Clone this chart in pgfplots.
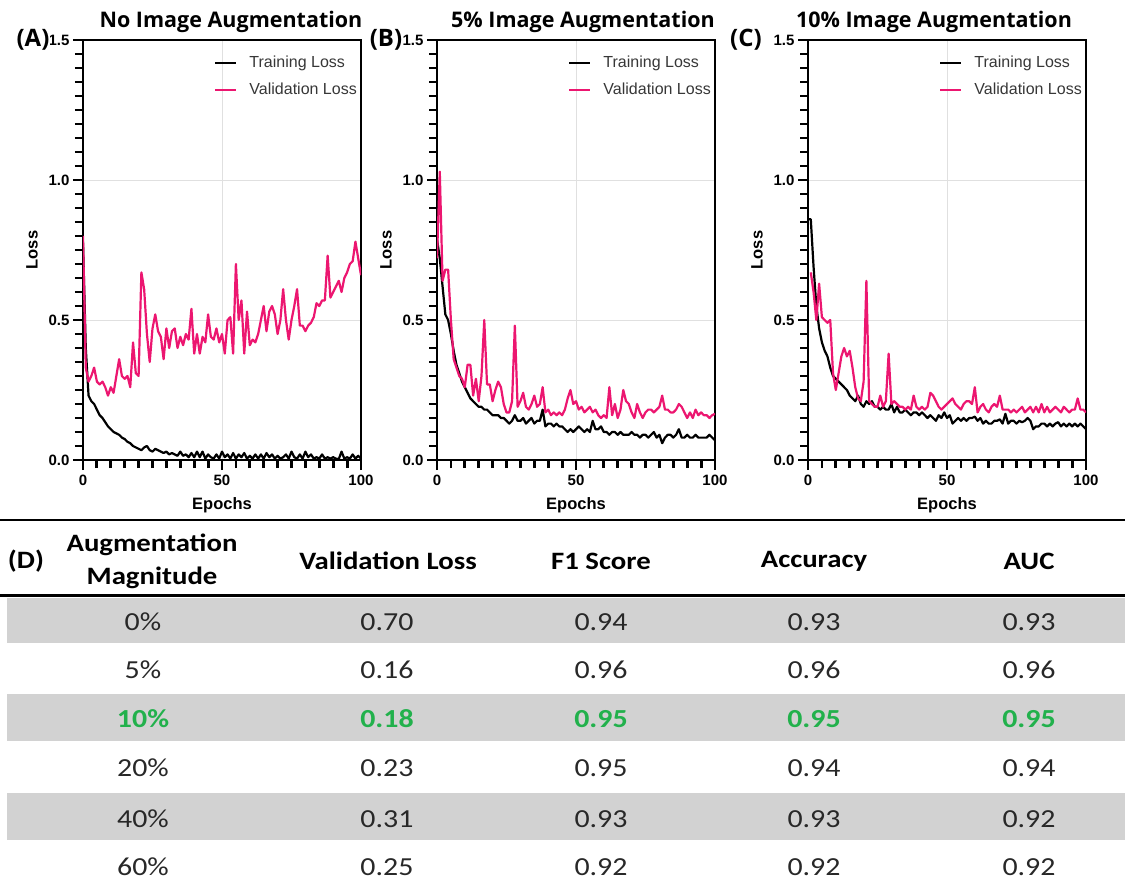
\documentclass[border=0pt]{standalone}
\usepackage{fontspec}
\usepackage{graphicx}
\usepackage{pgfplots}
\usepackage{pgfplotstable}
\pgfplotsset{compat=1.18}
\setmainfont{Liberation Sans}
\newfontfamily\arial{Liberation Sans}
\newfontfamily\segoe{Open Sans}
\newfontfamily\calibri{Carlito}
\definecolor{vpink}{RGB}{236,22,112}
\definecolor{rowgray}{RGB}{210,210,210}
\definecolor{bestgreen}{RGB}{34,177,76}
\definecolor{legtext}{RGB}{55,55,55}
\definecolor{tabtext}{RGB}{40,40,40}

\pgfplotstableread{
ep tr va
0 0.78 0.80
1 0.40 0.33
2 0.23 0.28
3 0.21 0.30
4 0.20 0.33
5 0.18 0.28
6 0.16 0.27
7 0.15 0.28
8 0.135 0.26
9 0.12 0.23
10 0.11 0.26
11 0.10 0.24
12 0.095 0.30
13 0.09 0.36
14 0.08 0.30
15 0.075 0.29
16 0.065 0.30
17 0.06 0.26
18 0.05 0.42
19 0.045 0.31
20 0.04 0.30
21 0.035 0.67
22 0.045 0.61
23 0.05 0.45
24 0.035 0.35
25 0.03 0.47
26 0.04 0.52
27 0.035 0.46
28 0.03 0.44
29 0.025 0.36
30 0.03 0.47
31 0.02 0.40
32 0.025 0.46
33 0.02 0.47
34 0.015 0.40
35 0.03 0.44
36 0.015 0.41
37 0.02 0.45
38 0.01 0.43
39 0.025 0.54
40 0.01 0.38
41 0.03 0.45
42 0.01 0.38
43 0.03 0.44
44 0.005 0.42
45 0.02 0.52
46 0.01 0.44
47 0.005 0.43
48 0.02 0.47
49 0.005 0.42
50 0.03 0.45
51 0.01 0.38
52 0.02 0.50
53 0.005 0.51
54 0.025 0.38
55 0.005 0.70
56 0.02 0.50
57 0.01 0.57
58 0.025 0.38
59 0.005 0.53
60 0.015 0.41
61 0.005 0.43
62 0.02 0.42
63 0.005 0.45
64 0.02 0.50
65 0.005 0.55
66 0.025 0.46
67 0.01 0.53
68 0.02 0.55
69 0.005 0.52
70 0.015 0.45
71 0.005 0.50
72 0.01 0.61
73 0.02 0.50
74 0.005 0.43
75 0.03 0.50
76 0.01 0.55
77 0.005 0.61
78 0.02 0.48
79 0.005 0.48
80 0.03 0.46
81 0.01 0.48
82 0.02 0.49
83 0.005 0.51
84 0.01 0.56
85 0.005 0.55
86 0.02 0.57
87 0.005 0.57
88 0.01 0.73
89 0.005 0.58
90 0.01 0.60
91 0.005 0.62
92 0.003 0.64
93 0.03 0.60
94 0.005 0.65
95 0.01 0.67
96 0.005 0.70
97 0.02 0.71
98 0.005 0.78
99 0.015 0.72
100 0.005 0.66
}\dataA

\pgfplotstableread{
ep tr va
0 0.79 0.72
1 0.72 1.03
2 0.62 0.64
3 0.52 0.68
4 0.50 0.68
5 0.45 0.50
6 0.39 0.36
7 0.34 0.33
8 0.31 0.30
9 0.28 0.29
10 0.26 0.26
11 0.24 0.34
12 0.22 0.34
13 0.21 0.23
14 0.20 0.29
15 0.19 0.21
16 0.19 0.30
17 0.18 0.50
18 0.18 0.27
19 0.17 0.27
20 0.16 0.21
21 0.16 0.25
22 0.16 0.28
23 0.15 0.26
24 0.15 0.20
25 0.14 0.17
26 0.13 0.17
27 0.14 0.21
28 0.16 0.48
29 0.14 0.19
30 0.14 0.21
31 0.15 0.24
32 0.13 0.19
33 0.14 0.18
34 0.15 0.20
35 0.13 0.23
36 0.14 0.19
37 0.14 0.20
38 0.18 0.26
39 0.12 0.17
40 0.13 0.18
41 0.13 0.16
42 0.12 0.17
43 0.13 0.16
44 0.12 0.17
45 0.12 0.16
46 0.11 0.18
47 0.10 0.22
48 0.11 0.25
49 0.10 0.20
50 0.11 0.21
51 0.12 0.18
52 0.11 0.19
53 0.10 0.17
54 0.11 0.18
55 0.10 0.19
56 0.14 0.17
57 0.11 0.18
58 0.11 0.16
59 0.12 0.15
60 0.10 0.16
61 0.10 0.15
62 0.09 0.26
63 0.10 0.16
64 0.10 0.20
65 0.09 0.15
66 0.10 0.18
67 0.09 0.25
68 0.09 0.21
69 0.09 0.20
70 0.10 0.17
71 0.09 0.15
72 0.09 0.20
73 0.08 0.17
74 0.09 0.15
75 0.09 0.17
76 0.08 0.18
77 0.09 0.18
78 0.10 0.17
79 0.08 0.18
80 0.09 0.19
81 0.06 0.23
82 0.08 0.18
83 0.09 0.18
84 0.09 0.17
85 0.08 0.17
86 0.09 0.18
87 0.11 0.20
88 0.08 0.19
89 0.08 0.17
90 0.09 0.15
91 0.08 0.17
92 0.08 0.15
93 0.09 0.18
94 0.08 0.16
95 0.08 0.17
96 0.08 0.16
97 0.08 0.16
98 0.09 0.15
99 0.08 0.16
100 0.07 0.165
}\dataB

\pgfplotstableread{
ep tr va
0 0.86 nan
1 0.86 0.67
2 0.69 0.60
3 0.55 0.50
4 0.47 0.63
5 0.42 0.51
6 0.39 0.50
7 0.37 0.49
8 0.33 0.50
9 0.30 0.31
10 0.29 0.25
11 0.28 0.31
12 0.27 0.37
13 0.26 0.40
14 0.25 0.37
15 0.23 0.39
16 0.22 0.33
17 0.21 0.26
18 0.23 0.22
19 0.20 0.21
20 0.19 0.28
21 0.21 0.64
22 0.20 0.21
23 0.21 0.20
24 0.19 0.19
25 0.19 0.19
26 0.18 0.23
27 0.19 0.19
28 0.18 0.21
29 0.18 0.38
30 0.20 0.20
31 0.17 0.21
32 0.19 0.20
33 0.17 0.19
34 0.17 0.19
35 0.18 0.18
36 0.17 0.19
37 0.16 0.18
38 0.17 0.23
39 0.17 0.19
40 0.16 0.18
41 0.17 0.19
42 0.16 0.18
43 0.15 0.19
44 0.16 0.24
45 0.15 0.23
46 0.14 0.21
47 0.16 0.19
48 0.15 0.18
49 0.17 0.19
50 0.15 0.20
51 0.16 0.21
52 0.13 0.22
53 0.14 0.20
54 0.15 0.19
55 0.14 0.18
56 0.15 0.20
57 0.14 0.21
58 0.15 0.21
59 0.15 0.20
60 0.155 0.26
61 0.14 0.17
62 0.15 0.19
63 0.13 0.20
64 0.14 0.18
65 0.13 0.17
66 0.13 0.19
67 0.14 0.20
68 0.14 0.19
69 0.145 0.23
70 0.13 0.18
71 0.165 0.18
72 0.13 0.18
73 0.14 0.17
74 0.14 0.18
75 0.13 0.17
76 0.14 0.18
77 0.135 0.19
78 0.14 0.17
79 0.15 0.18
80 0.14 0.19
81 0.11 0.17
82 0.12 0.19
83 0.12 0.17
84 0.13 0.20
85 0.13 0.17
86 0.12 0.19
87 0.13 0.17
88 0.12 0.18
89 0.13 0.19
90 0.135 0.18
91 0.12 0.17
92 0.13 0.19
93 0.12 0.18
94 0.13 0.17
95 0.12 0.18
96 0.13 0.18
97 0.12 0.22
98 0.13 0.18
99 0.12 0.18
100 0.11 0.17
}\dataC

\pgfplotsset{lossax/.style={
  scale only axis, width=278pt, height=420pt,
  xmin=0, xmax=100, ymin=0, ymax=1.5,
  xtick={0,50,100}, ytick={0,0.5,1,1.5},
  minor tick num=9,
  tick align=outside, tick pos=left,
  major tick length=10pt, minor tick length=8pt,
  tick style={black, line width=2.8pt},
  axis line style={line width=2.6pt},
  xmajorgrids, ymajorgrids, major grid style={black!12, line width=0.8pt},
  yticklabel style={font=\arial\bfseries\fontsize{15}{15}\selectfont,
    /pgf/number format/fixed, /pgf/number format/fixed zerofill, /pgf/number format/precision=1,
    /pgf/number format/assume math mode=true},
  xticklabel style={font=\arial\bfseries\fontsize{15}{15}\selectfont, yshift=-1pt,
    /pgf/number format/assume math mode=true},
  xlabel={Epochs}, ylabel={Loss},
  every axis x label/.style={at={(axis description cs:0.5,0)}, yshift=-45pt, anchor=center,
    font=\arial\bfseries\fontsize{16.5}{16.5}\selectfont},
  every axis y label/.style={at={(axis description cs:0,0.5)}, xshift=-51pt, rotate=90, anchor=center,
    font=\arial\bfseries\fontsize{16.5}{16.5}\selectfont},
  legend style={draw=none, fill=none, at={(axis description cs:1,1)}, anchor=north east,
    xshift=0pt, yshift=-12pt, font=\arial\fontsize{16}{16}\selectfont, text=legtext,
    row sep=10pt, inner sep=2pt},
  legend cell align=left,
  legend image code/.code={\draw[##1, line width=2.2pt] (0pt,0pt) -- (21pt,0pt); \path (31pt,0pt);},
}}

\newcommand{\tb}[1]{\scalebox{1.15}[1]{#1}}

\begin{document}
\begin{tikzpicture}
% ---- panel A ----
\begin{axis}[lossax, at={(83pt,-460pt)}, anchor=south west]
\addplot[black, line width=2.2pt, line join=round] table[x=ep,y=tr]{\dataA};
\addplot[vpink, line width=2.2pt, line join=round] table[x=ep,y=va]{\dataA};
\legend{Training Loss, Validation Loss}
\end{axis}
% ---- panel B ----
\begin{axis}[lossax, at={(437pt,-460pt)}, anchor=south west]
\addplot[black, line width=2.2pt, line join=round] table[x=ep,y=tr]{\dataB};
\addplot[vpink, line width=2.2pt, line join=round] table[x=ep,y=va]{\dataB};
\legend{Training Loss, Validation Loss}
\end{axis}
% ---- panel C ----
\begin{axis}[lossax, at={(808pt,-460pt)}, anchor=south west, unbounded coords=discard]
\addplot[black, line width=2.2pt, line join=round] table[x=ep,y=tr]{\dataC};
\addplot[vpink, line width=2.2pt, line join=round] table[x=ep,y=va]{\dataC};
\legend{Training Loss, Validation Loss}
\end{axis}

% titles and panel letters
\begin{scope}[every node/.style={font=\segoe\bfseries\fontsize{21.5}{21.5}\selectfont, inner sep=1pt}]
\node at (231pt,-22pt) {No Image Augmentation};
\node at (583pt,-22pt) {5\% Image Augmentation};
\node at (934pt,-22pt) {10\% Image Augmentation};
\end{scope}
\begin{scope}[every node/.style={font=\segoe\bfseries\fontsize{24}{24}\selectfont, inner sep=0.5pt}]
\node[fill=white] at (33pt,-40pt) {(A)};
\node[fill=white] at (386pt,-40pt) {(B)};
\node at (746pt,-40pt) {(C)};
\end{scope}

% ---- table (D) ----
\fill[rowgray] (7pt,-598pt) rectangle (1125pt,-643pt);
\fill[rowgray] (7pt,-694pt) rectangle (1125pt,-741pt);
\fill[rowgray] (7pt,-793pt) rectangle (1125pt,-840pt);
\draw[line width=2.5pt] (0pt,-520pt) -- (1125pt,-520pt);
\draw[line width=3pt] (0pt,-595pt) -- (1125pt,-595pt);

\begin{scope}[every node/.style={font=\calibri\bfseries\fontsize{25}{25}\selectfont, text=black, inner sep=0pt}]
\node at (26pt,-561pt) {\tb{(D)}};
\node at (152pt,-545pt) {\tb{Augmentation}};
\node at (152pt,-578pt) {\tb{Magnitude}};
\node at (388pt,-561pt) {\tb{Validation Loss}};
\node at (601pt,-561pt) {\tb{F1 Score}};
\node at (814pt,-561pt) {\tb{Accuracy}};
\node at (1029pt,-561pt) {\tb{AUC}};
\end{scope}

\begin{scope}[every node/.style={font=\calibri\fontsize{26}{26}\selectfont, text=tabtext, inner sep=0pt}]
\node at (143pt,-622pt) {\tb{0\%}};
\node at (387pt,-622pt) {\tb{0.70}};
\node at (601pt,-622pt) {\tb{0.94}};
\node at (814pt,-622pt) {\tb{0.93}};
\node at (1029pt,-622pt) {\tb{0.93}};
\node at (143pt,-670pt) {\tb{5\%}};
\node at (387pt,-670pt) {\tb{0.16}};
\node at (601pt,-670pt) {\tb{0.96}};
\node at (814pt,-670pt) {\tb{0.96}};
\node at (1029pt,-670pt) {\tb{0.96}};
\node at (143pt,-768pt) {\tb{20\%}};
\node at (387pt,-768pt) {\tb{0.23}};
\node at (601pt,-768pt) {\tb{0.95}};
\node at (814pt,-768pt) {\tb{0.94}};
\node at (1029pt,-768pt) {\tb{0.94}};
\node at (143pt,-819pt) {\tb{40\%}};
\node at (387pt,-819pt) {\tb{0.31}};
\node at (601pt,-819pt) {\tb{0.93}};
\node at (814pt,-819pt) {\tb{0.93}};
\node at (1029pt,-819pt) {\tb{0.92}};
\node at (143pt,-867pt) {\tb{60\%}};
\node at (387pt,-867pt) {\tb{0.25}};
\node at (601pt,-867pt) {\tb{0.92}};
\node at (814pt,-867pt) {\tb{0.92}};
\node at (1029pt,-867pt) {\tb{0.92}};
\end{scope}
\begin{scope}[every node/.style={font=\calibri\bfseries\fontsize{26}{26}\selectfont, text=bestgreen, inner sep=0pt}]
\node at (143pt,-719pt) {\tb{10\%}};
\node at (387pt,-719pt) {\tb{0.18}};
\node at (601pt,-719pt) {\tb{0.95}};
\node at (814pt,-719pt) {\tb{0.95}};
\node at (1029pt,-719pt) {\tb{0.95}};
\end{scope}

\pgfresetboundingbox
\path[use as bounding box] (0pt,0pt) rectangle (1125pt,-883pt);
\end{tikzpicture}
\end{document}
